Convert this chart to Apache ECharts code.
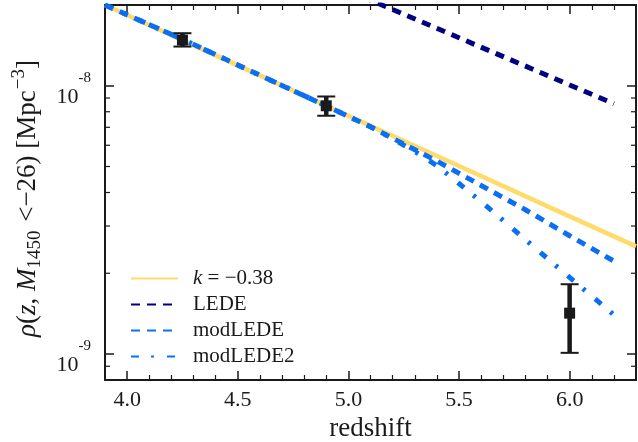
<!DOCTYPE html>
<html><head><meta charset="utf-8">
<script src="https://cdn.jsdelivr.net/npm/echarts@6/dist/echarts.min.js"></script>
<style>html,body{margin:0;padding:0;background:#fff}#c{width:638px;height:442px}</style>
</head><body><div id="c"></div>
<script>
// ---- data ----
const seriesNames = ['k=-0.38', 'LEDE', 'modLEDE', 'modLEDE2'];
const yellowZ   = [3.9, 4.5, 5.0, 5.5, 6.0, 6.3];
const yellowRho = [2.0e-8, 1.191e-8, 7.73e-9, 5.02e-9, 3.26e-9, 2.52e-9];
const ledeZ     = [5.0, 5.5, 6.0, 6.2];
const ledeRho   = [2.26e-8, 1.51e-8, 1.007e-8, 8.57e-9];
const modZ      = [3.9, 4.25, 4.5, 4.9, 5.1, 5.2, 5.4, 5.6, 5.8, 6.0, 6.2];
const modRho    = [2.0e-8, 1.49e-8, 1.195e-8, 8.41e-9, 7.03e-9, 6.37e-9, 5.24e-9, 4.25e-9, 3.45e-9, 2.76e-9, 2.22e-9];
const mod2Z     = [3.9, 4.25, 4.5, 4.9, 5.1, 5.2, 5.3, 5.4, 5.5, 5.6, 5.8, 6.0, 6.2];
const mod2Rho   = [2.0e-8, 1.49e-8, 1.195e-8, 8.41e-9, 7.03e-9, 6.35e-9, 5.69e-9, 5.04e-9, 4.32e-9, 3.70e-9, 2.67e-9, 1.93e-9, 1.40e-9];
const obsZ      = [4.25, 4.9, 6.0];
const obsRho    = [1.48e-8, 8.42e-9, 1.42e-9];
const obsLo     = [1.40e-8, 7.73e-9, 1.01e-9];
const obsHi     = [1.57e-8, 9.12e-9, 1.82e-9];
const xMajorTicks = [4.0, 4.5, 5.0, 5.5, 6.0];
const xMinorTicks = [4.1, 4.2, 4.3, 4.4, 4.6, 4.7, 4.8, 4.9, 5.1, 5.2, 5.3, 5.4, 5.6, 5.7, 5.8, 5.9, 6.1, 6.2];
const yMinorTicks = [9e-10, 2e-9, 3e-9, 4e-9, 5e-9, 6e-9, 7e-9, 8e-9, 9e-9];
const xMin = 3.9, xMax = 6.3, yMin = 8e-10, yMax = 2e-8;

// ---- styles ----
const FONT = 'Liberation Serif';
const INK = '#1a1a1a';
const YELLOW = '#fedb6a', NAVY = '#000080', BLUE = '#0b6ff5';

const zip = (a, b) => a.map((v, i) => [v, b[i]]);

const xAxisBase = {
  type: 'value', min: xMin, max: xMax, splitLine: { show: false }
};
const xAxes = [
  Object.assign({}, xAxisBase, {
    position: 'bottom',
    axisLine: { show: true, lineStyle: { color: INK, width: 2 } },
    axisTick: { show: true, inside: true, length: 9, customValues: xMajorTicks, lineStyle: { color: INK, width: 1.5 } },
    axisLabel: { show: true, customValues: xMajorTicks, margin: 9, color: INK, fontFamily: FONT, fontSize: 22,
      formatter: v => v.toFixed(1) },
    name: 'redshift', nameLocation: 'middle', nameGap: 30,
    nameTextStyle: { color: INK, fontFamily: FONT, fontSize: 27 }
  }),
  Object.assign({}, xAxisBase, {
    position: 'bottom',
    axisLine: { show: false },
    axisTick: { show: true, inside: true, length: 5, customValues: xMinorTicks, lineStyle: { color: INK, width: 1.2 } },
    axisLabel: { show: false }
  }),
  Object.assign({}, xAxisBase, {
    position: 'top',
    axisLine: { show: true, lineStyle: { color: INK, width: 2 } },
    axisTick: { show: true, inside: true, length: 9, customValues: xMajorTicks, lineStyle: { color: INK, width: 1.5 } },
    axisLabel: { show: false }
  }),
  Object.assign({}, xAxisBase, {
    position: 'top',
    axisLine: { show: false },
    axisTick: { show: true, inside: true, length: 5, customValues: xMinorTicks, lineStyle: { color: INK, width: 1.2 } },
    axisLabel: { show: false }
  })
];

const isPow10 = v => Math.abs(Math.log10(v) - Math.round(Math.log10(v))) < 1e-6;

const yAxes = [
  {
    type: 'log', logBase: 10, min: yMin, max: yMax, position: 'left',
    splitLine: { show: false },
    axisLine: { show: true, lineStyle: { color: INK, width: 2 } },
    axisTick: { show: true, inside: true, length: 9, lineStyle: { color: INK, width: 1.5 } },
    axisLabel: {
      show: true, margin: 14, showMinLabel: false, showMaxLabel: false,
      formatter: v => isPow10(v) ? '{b|10}{s|' + Math.round(Math.log10(v)) + '}' : '',
      rich: {
        b: { fontFamily: FONT, fontSize: 22, color: INK, lineHeight: 44, verticalAlign: 'bottom' },
        s: { fontFamily: FONT, fontSize: 15, color: INK, verticalAlign: 'top', padding: [7, 0, 0, 0] }
      }
    },
    name: '{i|ρ}{r|(}{i|z}{r|, }{i|M}{sub|1450}{r| <−26) [Mpc}{sup|−3}{r|]}',
    nameLocation: 'middle', nameRotate: 90, nameGap: 56,
    nameTextStyle: {
      padding: [0, 12, 0, 0],
      rich: {
        r: { fontFamily: FONT, fontSize: 27, color: INK, lineHeight: 42, verticalAlign: 'middle' },
        i: { fontFamily: FONT, fontSize: 27, fontStyle: 'italic', color: INK, lineHeight: 42, verticalAlign: 'middle' },
        sub: { fontFamily: FONT, fontSize: 19, color: INK, verticalAlign: 'bottom', padding: [0, 2, 4, 0] },
        sup: { fontFamily: FONT, fontSize: 19, color: INK, verticalAlign: 'top', padding: [3, 0, 0, 1] }
      }
    }
  },
  {
    type: 'log', logBase: 10, min: yMin, max: yMax, position: 'right',
    splitLine: { show: false },
    axisLine: { show: true, lineStyle: { color: INK, width: 2 } },
    axisTick: { show: true, inside: true, length: 9, lineStyle: { color: INK, width: 1.5 } },
    axisLabel: { show: false }
  }
];

const lineSeries = (name, z, rho, color, type, width) => ({
  name, type: 'line', xAxisIndex: 0, yAxisIndex: 0,
  data: zip(z, rho), symbol: 'none', smooth: false, clip: true,
  lineStyle: { color, width, type, cap: 'butt' },
  itemStyle: { color },
  emphasis: { disabled: true }, animation: false
});

const option = {
  animation: false,
  backgroundColor: '#ffffff',
  grid: { left: 105, top: 5, width: 531, height: 375, containLabel: false, outerBoundsMode: 'none' },
  xAxis: xAxes,
  yAxis: yAxes,
  legend: {
    data: seriesNames,
    orient: 'vertical', left: 125, top: 263,
    itemWidth: 47, itemHeight: 14, itemGap: 5,
    itemStyle: { opacity: 0 },
    formatter: name => name === seriesNames[0] ? '{i|k}{r| = −0.38}' : '{r|' + name + '}',
    textStyle: {
      padding: [0, 0, 0, 10],
      rich: {
        r: { fontFamily: FONT, fontSize: 21, color: INK, lineHeight: 21 },
        i: { fontFamily: FONT, fontSize: 21, fontStyle: 'italic', color: INK, lineHeight: 21 }
      }
    },
    selectedMode: false
  },
  series: [
    lineSeries(seriesNames[0], yellowZ, yellowRho, YELLOW, 'solid', 4.5),
    lineSeries(seriesNames[1], ledeZ, ledeRho, NAVY, [9, 7], 5),
    lineSeries(seriesNames[2], modZ, modRho, BLUE, [9, 7], 5),
    lineSeries(seriesNames[3], mod2Z, mod2Rho, BLUE, [8, 12, 3, 13], 5),
    {
      name: 'obs', type: 'custom', xAxisIndex: 0, yAxisIndex: 0, z: 5,
      data: obsZ.map((z, i) => [z, obsRho[i], obsLo[i], obsHi[i]]),
      encode: { x: 0, y: [1, 2, 3] },
      renderItem: (params, api) => {
        const z = api.value(0);
        const p = api.coord([z, api.value(1)]);
        const lo = api.coord([z, api.value(2)]);
        const hi = api.coord([z, api.value(3)]);
        const cw = 9;
        return {
          type: 'group', children: [
            { type: 'line', shape: { x1: lo[0], y1: lo[1], x2: hi[0], y2: hi[1] }, style: { stroke: INK, lineWidth: 4.5 } },
            { type: 'line', shape: { x1: lo[0] - cw, y1: lo[1], x2: lo[0] + cw, y2: lo[1] }, style: { stroke: INK, lineWidth: 2 } },
            { type: 'line', shape: { x1: hi[0] - cw, y1: hi[1], x2: hi[0] + cw, y2: hi[1] }, style: { stroke: INK, lineWidth: 2 } },
            { type: 'rect', shape: { x: p[0] - 5.5, y: p[1] - 5.5, width: 11, height: 11 }, style: { fill: INK } }
          ]
        };
      },
      silent: true, animation: false
    },
    {
      name: 'yminor', type: 'custom', xAxisIndex: 0, yAxisIndex: 0, z: 6,
      data: yMinorTicks.map(v => [xMin, v]),
      encode: { x: 0, y: 1 },
      renderItem: (params, api) => {
        const cs = params.coordSys;
        const y = api.coord([api.value(0), api.value(1)])[1];
        return {
          type: 'group', children: [
            { type: 'line', shape: { x1: cs.x, y1: y, x2: cs.x + 5, y2: y }, style: { stroke: INK, lineWidth: 1.2 } },
            { type: 'line', shape: { x1: cs.x + cs.width - 5, y1: y, x2: cs.x + cs.width, y2: y }, style: { stroke: INK, lineWidth: 1.2 } }
          ]
        };
      },
      clip: false, silent: true, animation: false
    }
  ]
};

const chart = echarts.init(document.getElementById('c'), null, { renderer: 'canvas' });
chart.setOption(option);
</script>
</body></html>
